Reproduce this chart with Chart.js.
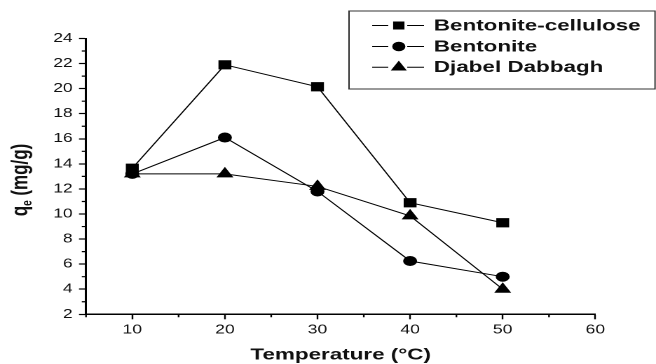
<!DOCTYPE html>
<html>
<head>
<meta charset="utf-8">
<script src="https://cdn.jsdelivr.net/npm/chart.js@4.4.1/dist/chart.umd.min.js"></script>
<style>
  html, body { margin: 0; padding: 0; background: #fff; }
</style>
</head>
<body>
<!-- the reference is stretched sideways, so the canvas is drawn narrow and widened by css -->
<canvas id="myChart" width="468" height="364" style="width:656px;height:364px"></canvas>
<script>
const temperatures = [10, 20, 30, 40, 50];
const bentoniteCellulose = [13.65, 21.9, 20.15, 10.9, 9.3];
const bentonite = [13.2, 16.1, 11.8, 6.25, 5.0];
const djabelDabbagh = [13.2, 13.2, 12.2, 9.85, 4.0];
const seriesNames = ['Bentonite-cellulose', 'Bentonite', 'Djabel Dabbagh'];
const seriesMarkers = ['rect', 'circle', 'triangle'];
const xTitle = 'Temperature (°C)';

const FONT = "'Liberation Sans', Arial, sans-serif";
const ctx = document.getElementById('myChart').getContext('2d');

function makeSet(label, values, marker, radius) {
    return {
        label: label,
        data: temperatures.map((t, i) => ({x: t, y: values[i]})),
        borderColor: '#000',
        backgroundColor: '#000',
        borderWidth: 1,
        pointStyle: marker,
        pointRadius: radius,
        pointBorderWidth: 1,
        pointBackgroundColor: '#000',
        pointBorderColor: '#000',
        tension: 0
    };
}

const axisExtras = {
    id: 'axisExtras',
    afterDraw(chart) {
        const c = chart.ctx;
        const xs = chart.scales.x;
        const ys = chart.scales.y;
        c.save();
        // minor ticks
        c.strokeStyle = '#000';
        c.lineWidth = 1.2;
        c.beginPath();
        xs.ticks.forEach(t => {
            if (t.value % 10 !== 0) {
                const px = xs.getPixelForValue(t.value);
                c.moveTo(px, xs.top);
                c.lineTo(px, xs.top + 3);
            }
        });
        ys.ticks.forEach(t => {
            if (t.value % 2 !== 0) {
                const py = ys.getPixelForValue(t.value);
                c.moveTo(ys.right, py);
                c.lineTo(ys.right - 3, py);
            }
        });
        c.stroke();

        // y title with subscript
        c.fillStyle = '#111';
        c.translate(19.5, 180);
        c.rotate(-Math.PI / 2);
        c.textBaseline = 'alphabetic';
        c.textAlign = 'left';
        const big = 'bold 17px ' + FONT;
        const small = 'bold 10px ' + FONT;
        c.font = big;
        const w1 = c.measureText('q').width;
        const w3 = c.measureText(' (mg/g)').width;
        c.font = small;
        const w2 = c.measureText('e').width;
        let x0 = -(w1 + w2 + w3) / 2;
        c.font = big;
        c.fillText('q', x0, 0);
        c.font = small;
        c.fillText('e', x0 + w1, 3);
        c.font = big;
        c.fillText(' (mg/g)', x0 + w1 + w2, 0);
        c.restore();

        // x title
        c.save();
        c.fillStyle = '#111';
        c.font = 'bold 16px ' + FONT;
        c.textAlign = 'center';
        c.textBaseline = 'alphabetic';
        c.fillText(xTitle, (xs.left + xs.right) / 2, 359.5);
        c.restore();

        // legend box
        c.save();
        c.strokeStyle = '#333';
        c.lineWidth = 1;
        c.fillStyle = '#fff';
        c.fillRect(249, 11, 218.3, 78);
        c.strokeRect(249, 11, 218.3, 78);
        const rowsY = [25.5, 46.5, 67.2];
        const radii = [5, 4.2, 5.6];
        seriesNames.forEach((name, i) => {
            const y = rowsY[i];
            c.strokeStyle = '#000';
            c.lineWidth = 1;
            c.beginPath();
            c.moveTo(265.5, y);
            c.lineTo(277, y);
            c.moveTo(290.5, y);
            c.lineTo(302.5, y);
            c.stroke();
            c.fillStyle = '#000';
            Chart.helpers.drawPoint(c, {pointStyle: seriesMarkers[i], radius: radii[i], borderWidth: 1, rotation: 0}, 284.5, y);
            c.fill();
            c.fillStyle = '#111';
            c.font = 'bold 16px ' + FONT;
            c.textAlign = 'left';
            c.textBaseline = 'middle';
            c.fillText(name, 309.5, y + 0.5);
        });
        c.restore();
    }
};

const myChart = new Chart(ctx, {
    type: 'line',
    data: {
        datasets: [
            makeSet(seriesNames[0], bentoniteCellulose, seriesMarkers[0], 5.8),
            makeSet(seriesNames[1], bentonite, seriesMarkers[1], 4.5),
            makeSet(seriesNames[2], djabelDabbagh, seriesMarkers[2], 6)
        ]
    },
    options: {
        responsive: false,
        animation: false,
        devicePixelRatio: 2,
        layout: {
            padding: {left: 0, top: 38.5, right: 43.3, bottom: 0}
        },
        plugins: {
            legend: {display: false},
            tooltip: {enabled: false}
        },
        scales: {
            x: {
                type: 'linear',
                min: 5,
                max: 60,
                afterFit: s => { s.height = 49.7; },
                border: {color: '#000', width: 1.5},
                grid: {
                    drawOnChartArea: false,
                    tickLength: 5,
                    tickWidth: 1.2,
                    tickColor: c => (c.tick && c.tick.value % 10 === 0) ? '#000' : 'rgba(0,0,0,0)'
                },
                ticks: {
                    stepSize: 5,
                    autoSkip: false,
                    maxRotation: 0,
                    padding: 3,
                    color: '#111',
                    font: {family: FONT, size: 12.5},
                    callback: v => v % 10 === 0 ? v : ''
                }
            },
            y: {
                min: 2,
                max: 24,
                afterFit: s => { s.width = 61.35; },
                border: {color: '#000', width: 1.5},
                grid: {
                    drawOnChartArea: false,
                    tickLength: 5,
                    tickWidth: 1.2,
                    tickColor: c => (c.tick && c.tick.value % 2 === 0) ? '#000' : 'rgba(0,0,0,0)'
                },
                ticks: {
                    stepSize: 1,
                    autoSkip: false,
                    padding: 4.5,
                    color: '#111',
                    font: {family: FONT, size: 12.5},
                    callback: v => v % 2 === 0 ? v : ''
                }
            }
        }
    },
    plugins: [axisExtras]
});
</script>
</body>
</html>
